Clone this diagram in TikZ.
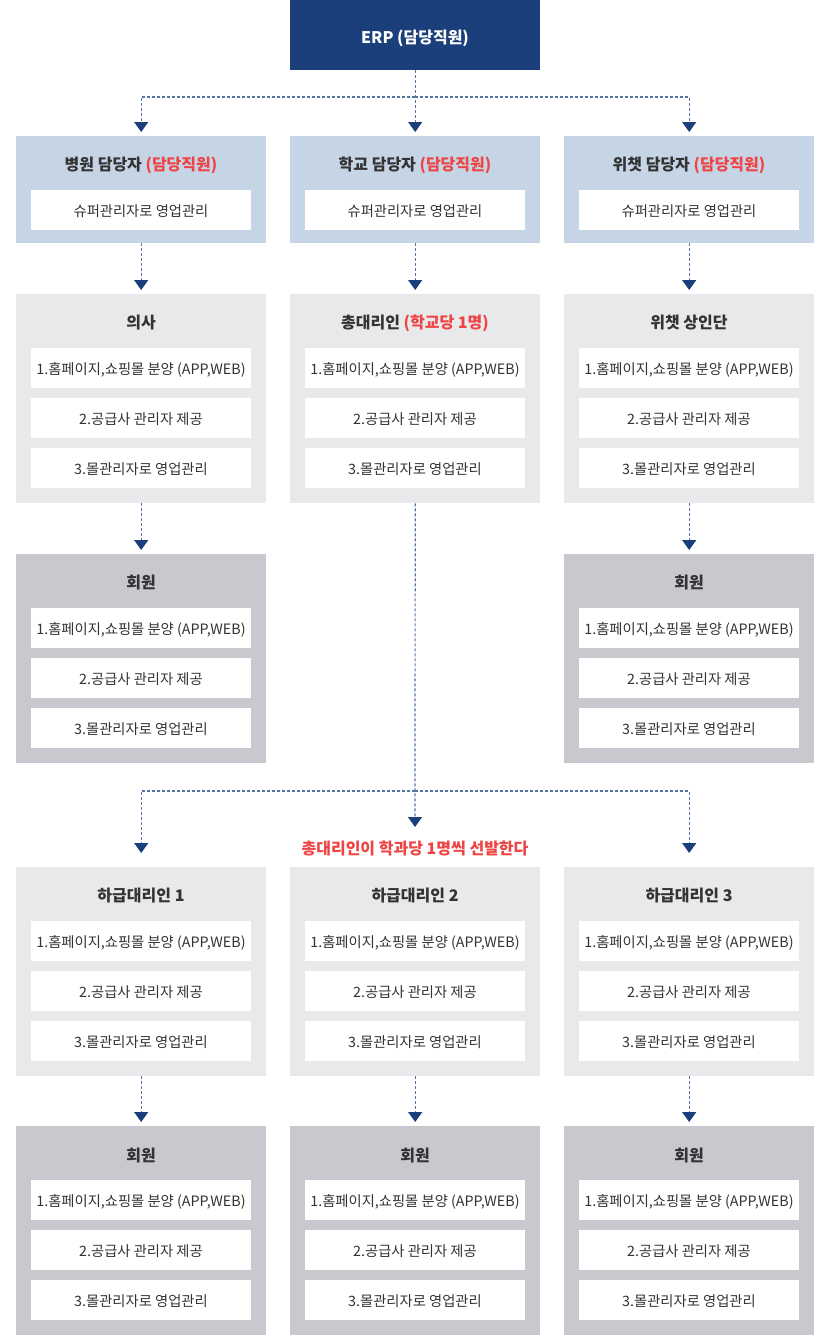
\documentclass[tikz,border=0pt]{standalone}
\usepackage{fontspec}
\setmainfont{Noto Sans CJK KR}
\usetikzlibrary{arrows.meta}
\definecolor{navy}{HTML}{1B3F7B}
\definecolor{dashc}{HTML}{5574A4}
\definecolor{lblue}{HTML}{C6D5E6}
\definecolor{lgray}{HTML}{E8E9EB}
\definecolor{dgray}{HTML}{C8C9CE}
\definecolor{txt}{HTML}{333333}
\definecolor{hred}{HTML}{EE4444}
\tikzset{
  panel/.style={minimum width=250pt, inner sep=0pt, anchor=north west, draw=none},
  item/.style={fill=white, minimum width=220pt, minimum height=40pt, inner sep=0pt},
  itext/.style={inner sep=0pt, text=txt, font=\fontsize{14.3}{16}\selectfont},
  ptitle/.style={inner sep=0pt, text=txt, font=\fontsize{16}{18}\selectfont\bfseries},
  dl/.style={draw=dashc, line width=1.2pt, dash pattern=on 3pt off 2pt, -{Triangle[width=14pt,length=10pt,color=navy,fill=navy]}, shorten >=4pt}
}
\newcommand\bigpanel[5]{%
  \node[panel, fill=#4, minimum height=209pt] (#1) at (#2,#3) {};
  \node[ptitle] (#1t) at ({#2+125},{#3+29}) {#5};
  \node[item] (#1i) at ({#2+125},{#3+74}) {};
  \node[item] (#1ii) at ({#2+125},{#3+124}) {};
  \node[item] (#1iii) at ({#2+125},{#3+174}) {};
  \node[itext] at ({#2+125},{#3+75.5}) {1.홈페이지,쇼핑몰 분양 (APP,WEB)};
  \node[itext] at ({#2+125},{#3+125.5}) {2.공급사 관리자 제공};
  \node[itext] at ({#2+125},{#3+175.5}) {3.몰관리자로 영업관리};
}
\newcommand\toppanel[4]{%
  \node[panel, fill=lblue, minimum height=107pt] (#1) at (#2,#3) {};
  \node[ptitle] (#1t) at ({#2+125},{#3+29}) {#4};
  \node[item] (#1i) at ({#2+125},{#3+74}) {};
  \node[itext] at ({#2+125},{#3+75.5}) {슈퍼관리자로 영업관리};
}
\begin{document}
\begin{tikzpicture}[x=1pt,y=-1pt]
\useasboundingbox (0,0) rectangle (830,1336);
% ERP
\node[panel, fill=navy, minimum height=70pt] (erp) at (290,0) {};
\node[text=white, font=\fontsize{16}{18}\selectfont\bfseries, inner sep=0pt] (erpt) at (415,38) {ERP (담당직원)};
% row 1
\toppanel{h1}{16}{136}{병원 담당자 {\color{hred}(담당직원)}}
\toppanel{h2}{290}{136}{학교 담당자 {\color{hred}(담당직원)}}
\toppanel{h3}{564}{136}{위챗 담당자 {\color{hred}(담당직원)}}
% row 2
\bigpanel{a1}{16}{294}{lgray}{의사}
\bigpanel{a2}{290}{294}{lgray}{총대리인 {\color{hred}(학교당 1명)}}
\bigpanel{a3}{564}{294}{lgray}{위챗 상인단}
% row 3
\bigpanel{m1}{16}{554}{dgray}{회원}
\bigpanel{m3}{564}{554}{dgray}{회원}
% row 4
\bigpanel{s1}{16}{867}{lgray}{하급대리인 1}
\bigpanel{s2}{290}{867}{lgray}{하급대리인 2}
\bigpanel{s3}{564}{867}{lgray}{하급대리인 3}
% row 5
\bigpanel{r1}{16}{1126}{dgray}{회원}
\bigpanel{r2}{290}{1126}{dgray}{회원}
\bigpanel{r3}{564}{1126}{dgray}{회원}
% red note
\node[inner sep=0pt, text=hred, font=\fontsize{16}{18}\selectfont\bfseries] (note) at (415,848) {총대리인이 학과당 1명씩 선발한다};
% connectors
\coordinate (j1) at (415,97);
\draw[dl] (erp.south) -- (h2.north);
\draw[dl] (j1) -| (h1.north);
\draw[dl] (j1) -| (h3.north);
\draw[dl] (h1.south) -- (a1.north);
\draw[dl] (h2.south) -- (a2.north);
\draw[dl] (h3.south) -- (a3.north);
\draw[dl] (a1.south) -- (m1.north);
\draw[dl] (a3.south) -- (m3.north);
\coordinate (j2) at (415,791);
\coordinate (t2) at (415,831);
\draw[dl] (a2.south) -- (t2);
\draw[dl, shorten >=14pt] (j2) -| (s1.north);
\draw[dl, shorten >=14pt] (j2) -| (s3.north);
\draw[dl] (s1.south) -- (r1.north);
\draw[dl] (s2.south) -- (r2.north);
\draw[dl] (s3.south) -- (r3.north);
\end{tikzpicture}
\end{document}
